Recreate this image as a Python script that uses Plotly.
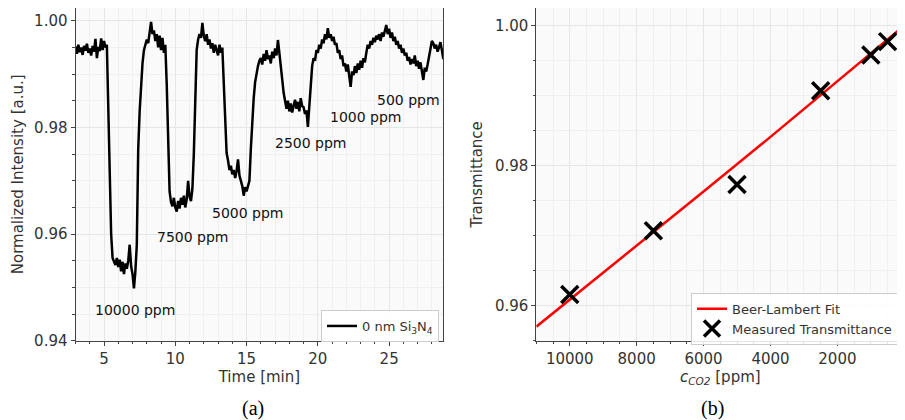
import numpy as np
import plotly.graph_objects as go

# ---------------- data (a): time trace ----------------
time_min = np.round(np.arange(3.0, 28.85, 0.1), 1)
intensity = [
    0.9952, 0.9938, 0.9955, 0.9941, 0.9950, 0.9936, 0.9953, 0.9944, 0.9957, 0.9940,
    0.9948, 0.9935, 0.9953, 0.9942, 0.9966, 0.9930, 0.9951, 0.9943, 0.9967, 0.9945,
    0.9962, 0.9950, 0.9955, 0.9830, 0.9700, 0.9600, 0.9555, 0.9550, 0.9542, 0.9555,
    0.9538, 0.9552, 0.9530, 0.9548, 0.9525, 0.9545, 0.9535, 0.9550, 0.9580, 0.9540,
    0.9525, 0.9498, 0.9530, 0.9580, 0.9760, 0.9830, 0.9885, 0.9920, 0.9945, 0.9955,
    0.9965, 0.9958, 0.9985, 0.9998, 0.9975, 0.9982, 0.9962, 0.9975, 0.9950, 0.9972,
    0.9945, 0.9968, 0.9940, 0.9955, 0.9880, 0.9760, 0.9680, 0.9660, 0.9652, 0.9668,
    0.9650, 0.9642, 0.9662, 0.9648, 0.9668, 0.9655, 0.9672, 0.9650, 0.9665, 0.9700,
    0.9670, 0.9662, 0.9685, 0.9750, 0.9880, 0.9945, 0.9965, 0.9975, 0.9968, 0.9996,
    0.9972, 0.9962, 0.9975, 0.9955, 0.9965, 0.9948, 0.9958, 0.9940, 0.9955, 0.9945,
    0.9935, 0.9955, 0.9940, 0.9950, 0.9880, 0.9800, 0.9752, 0.9738, 0.9720, 0.9728,
    0.9712, 0.9720, 0.9705, 0.9718, 0.9740, 0.9710, 0.9700, 0.9690, 0.9672, 0.9688,
    0.9680, 0.9690, 0.9700, 0.9760, 0.9820, 0.9855, 0.9885, 0.9905, 0.9915, 0.9925,
    0.9930, 0.9918, 0.9938, 0.9925, 0.9945, 0.9928, 0.9935, 0.9920, 0.9942, 0.9930,
    0.9948, 0.9935, 0.9964, 0.9940, 0.9920, 0.9890, 0.9865, 0.9848, 0.9835, 0.9850,
    0.9830, 0.9845, 0.9828, 0.9840, 0.9852, 0.9835, 0.9848, 0.9830, 0.9855, 0.9840,
    0.9838, 0.9825, 0.9832, 0.9801, 0.9840, 0.9890, 0.9915, 0.9930, 0.9925, 0.9945,
    0.9940, 0.9955, 0.9948, 0.9965, 0.9958, 0.9975, 0.9965, 0.9986, 0.9968, 0.9975,
    0.9962, 0.9970, 0.9955, 0.9958, 0.9940, 0.9945, 0.9928, 0.9935, 0.9915, 0.9920,
    0.9905, 0.9918, 0.9895, 0.9876, 0.9905, 0.9898, 0.9915, 0.9902, 0.9920, 0.9908,
    0.9925, 0.9912, 0.9930, 0.9922, 0.9940, 0.9955, 0.9948, 0.9962, 0.9955, 0.9968,
    0.9960, 0.9972, 0.9965, 0.9975, 0.9962, 0.9978, 0.9970, 0.9982, 0.9992, 0.9975,
    0.9985, 0.9968, 0.9978, 0.9962, 0.9970, 0.9955, 0.9962, 0.9948, 0.9955, 0.9940,
    0.9948, 0.9935, 0.9940, 0.9925, 0.9932, 0.9918, 0.9928, 0.9920, 0.9935, 0.9915,
    0.9925, 0.9910, 0.9922, 0.9905, 0.9889, 0.9912, 0.9905, 0.9918, 0.9935, 0.9950,
    0.9962, 0.9958, 0.9948, 0.9955, 0.9942, 0.9950, 0.9960, 0.9945, 0.9928,
]
conc_labels = ["10000 ppm", "7500 ppm", "5000 ppm", "2500 ppm", "1000 ppm", "500 ppm"]
label_t = [7.18, 11.27, 15.13, 19.5, 23.39, 26.36]
label_v = [0.9457, 0.9595, 0.9640, 0.9770, 0.9820, 0.9851]

# ---------------- data (b): transmittance ----------------
meas_c = [10000, 7500, 5000, 2500, 1000, 500]
meas_T = [0.9616, 0.9707, 0.9773, 0.9907, 0.9958, 0.9977]
fit_c = [11000, 8000, 6000, 4000, 2000, 0]
fit_T = [0.9570, 0.9685, 0.9763, 0.9841, 0.9920, 1.0000]

# page body has an 8px margin: the figure is drawn from (8, 8) of the window
OFF = 8
W, H = 905 - OFF, 420 - OFF
FONT = "DejaVu Sans"
TXT = "#333333"
GRID = "#e6e6e6"
MGRID = "#f0f0f0"
FRAME = "#444444"
BG = "#fafafa"


def sx(x):
    return min(1.0, max(0.0, (x - OFF) / W))


def sy(y):
    return min(1.0, max(0.0, 1 - (y - OFF) / H))


fig = go.Figure()
fig.add_trace(go.Scatter(x=time_min, y=intensity, mode="lines",
                         line=dict(color="black", width=2.5),
                         name="0 nm Si<sub>3</sub>N<sub>4</sub>",
                         xaxis="x", yaxis="y", legend="legend"))
fig.add_trace(go.Scatter(x=fit_c, y=fit_T, mode="lines",
                         line=dict(color="#ff0000", width=2.5),
                         name="Beer-Lambert Fit", xaxis="x2", yaxis="y2",
                         legend="legend2"))
fig.add_trace(go.Scatter(x=meas_c, y=meas_T, mode="markers",
                         marker=dict(symbol="x-thin", size=17,
                                     line=dict(color="black", width=3.5)),
                         name="Measured Transmittance", xaxis="x2", yaxis="y2",
                         legend="legend2"))

for txt, tx, ty in zip(conc_labels, label_t, label_v):
    fig.add_annotation(x=tx, y=ty, xref="x", yref="y", text=txt, showarrow=False,
                       font=dict(family=FONT, size=14, color="#111111"))

ydom = [sy(340.7), sy(7.3)]
common = dict(showline=True, linecolor=FRAME, linewidth=1, mirror=True,
              ticks="outside", ticklen=4, tickcolor=FRAME,
              tickfont=dict(family=FONT, size=15, color=TXT),
              showgrid=True, gridcolor=GRID, gridwidth=1, zeroline=False,
              automargin=False)
minor_x = dict(ticks="outside", ticklen=2.5, tickcolor=FRAME, showgrid=True, gridcolor=MGRID)

fig.update_layout(
    width=W, height=H, margin=dict(l=0, r=0, t=0, b=0, autoexpand=False),
    paper_bgcolor="white", plot_bgcolor=BG,
    font=dict(family=FONT, color=TXT),
    xaxis=dict(domain=[sx(75.5), sx(443.3)], range=[3, 28.8],
               tick0=0, dtick=5, anchor="y",
               minor=dict(dtick=1, **minor_x),
               title=dict(text="Time [min]", font=dict(family=FONT, size=15, color=TXT), standoff=0),
               **common),
    yaxis=dict(domain=ydom, range=[0.94, 1.0024], tick0=0.94, dtick=0.02,
               tickformat=".2f", anchor="x",
               minor=dict(dtick=0.005, **minor_x),
               title=dict(text="Normalized Intensity [a.u.]",
                          font=dict(family=FONT, size=15, color=TXT), standoff=6),
               **common),
    xaxis2=dict(domain=[sx(536.3), sx(904.3)], range=[11000, 0],
                tick0=0, dtick=2000, tickformat="d", anchor="y2",
                minor=dict(dtick=500, **minor_x),
                title=dict(text="<i>c</i><sub><i>CO2</i></sub> [ppm]",
                           font=dict(family=FONT, size=15, color=TXT), standoff=0),
                **common),
    yaxis2=dict(domain=ydom, range=[0.955, 1.0025], tick0=0.96, dtick=0.02,
                tickformat=".2f", anchor="x2",
                minor=dict(dtick=0.005, **minor_x),
                title=dict(text="Transmittance",
                           font=dict(family=FONT, size=15, color=TXT), standoff=8),
                **common),
    legend=dict(x=sx(439), y=sy(310), xanchor="right", yanchor="top",
                bgcolor="rgba(255,255,255,0.85)", bordercolor="#cccccc", borderwidth=1,
                font=dict(family=FONT, size=13, color=TXT), itemwidth=30,
                tracegroupgap=0),
    legend2=dict(x=sx(898), y=sy(292.7), xanchor="right", yanchor="top",
                 bgcolor="rgba(255,255,255,0.85)", bordercolor="#cccccc", borderwidth=1,
                 font=dict(family=FONT, size=13, color=TXT), itemwidth=30,
                 tracegroupgap=0),
    showlegend=True,
)

fig.add_annotation(x=sx(253), y=sy(408), xref="paper", yref="paper",
                   xanchor="center", yanchor="middle",
                   text="(a)", showarrow=False,
                   font=dict(family="Liberation Serif", size=20, color="black"))
fig.add_annotation(x=sx(712), y=sy(408), xref="paper", yref="paper",
                   xanchor="center", yanchor="middle",
                   text="(b)", showarrow=False,
                   font=dict(family="Liberation Serif", size=20, color="black"))

fig.write_html("out.html")
